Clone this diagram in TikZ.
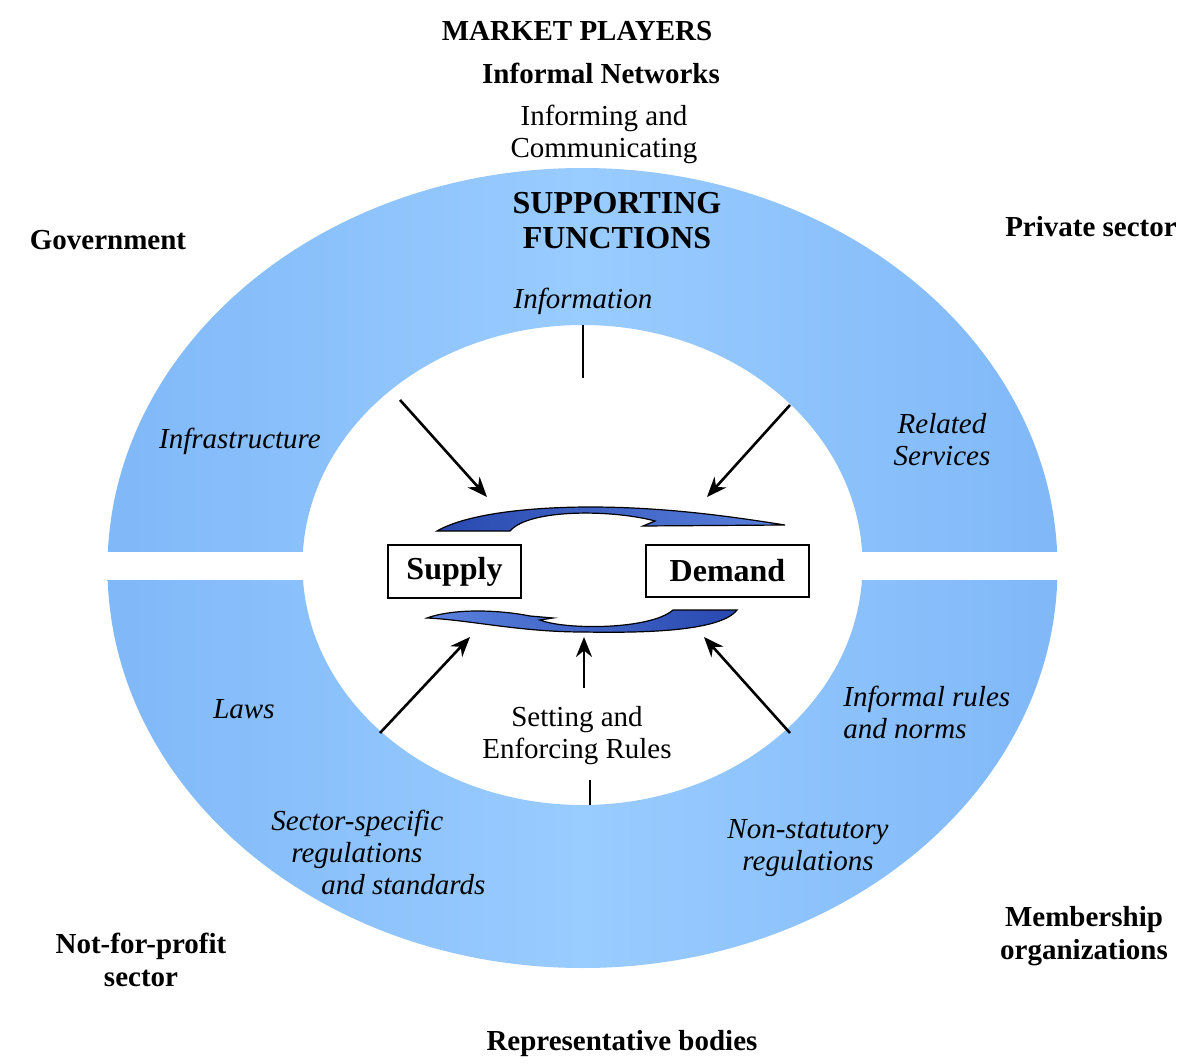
\documentclass[tikz,border=0pt]{standalone}
\usepackage{fontspec}
\setmainfont{Liberation Serif}
\usetikzlibrary{arrows.meta}
\definecolor{ringmid}{RGB}{153,204,255}
\definecolor{ringside}{RGB}{128,184,248}
\definecolor{loopdark}{RGB}{40,72,175}
\definecolor{looplight}{RGB}{90,130,222}
\begin{document}
\begin{tikzpicture}[x=0.5pt, y=-0.5pt,
    boldtxt/.style={font=\bfseries\fontsize{14.5}{16.5}\selectfont, align=center, inner sep=0},
    plaintxt/.style={font=\fontsize{14.5}{16}\selectfont, align=center, inner sep=0},
    italtxt/.style={font=\itshape\fontsize{14.5}{16}\selectfont, align=center, inner sep=0},
    boxnode/.style={draw, line width=1.2pt, fill=white, font=\bfseries\fontsize{16}{18}\selectfont, inner sep=0},
    pointer/.style={-{Stealth[length=10pt, width=8pt]}, line width=1.3pt},
    loopshape/.style={draw=black, line width=0.6pt}]
  \useasboundingbox (0,0) rectangle (1200,1064);
  % Ring of supporting functions and rules:
  \path[even odd rule, left color=ringside, right color=ringside, middle color=ringmid]
    (582.5,568) ellipse [x radius=237.5pt, y radius=200pt]
    (582.5,565) ellipse [x radius=140pt, y radius=120pt];
  \fill[white] (90,552) rectangle (1080,580);
  % Players round the ring:
  \node[boldtxt] (players) at (577,31) {MARKET PLAYERS};
  \node[boldtxt] (networks) at (601,73) {Informal Networks};
  \node[plaintxt] (informing) at (604,134) {Informing and\\Communicating};
  \node[boldtxt, font=\bfseries\fontsize{16}{17.5}\selectfont] (supporting) at (617,221) {SUPPORTING\\FUNCTIONS};
  \node[boldtxt] (government) at (108,240) {Government};
  \node[boldtxt] (private) at (1091,227) {Private sector};
  \node[boldtxt] (notprofit) at (141,960) {Not-for-profit\\sector};
  \node[boldtxt] (membership) at (1084,936) {Membership\\organizations};
  \node[boldtxt] (representative) at (622,1044) {Representative bodies};
  % Functions in the ring:
  \node[italtxt] (information) at (583,301) {Information};
  \node[italtxt] (infrastructure) at (240,441) {Infrastructure};
  \node[italtxt] (related) at (942,440) {Related\\Services};
  \node[italtxt] (laws) at (244,709) {Laws};
  \node[italtxt, anchor=west, align=left] (informalrules) at (843,712) {Informal rules\\and norms};
  \node[italtxt, anchor=west, align=left] (sectorspecific) at (271,852) {Sector-specific\\\hspace*{10pt}regulations\\\hspace*{25pt}and standards};
  \node[italtxt] (nonstatutory) at (808,848) {Non-statutory\\regulations};
  \node[plaintxt] (setting) at (577,736) {Setting and\\Enforcing Rules};
  % Core market:
  \node[boxnode, minimum width=66.5pt, minimum height=26.5pt] (supply) at (454.5,571.5) {Supply};
  \node[boxnode, minimum width=81.5pt, minimum height=26pt] (demand) at (727.5,571) {Demand};
  \draw[loopshape, left color=loopdark, right color=looplight]
    (437,531) .. controls (470,512) and (540,507) .. (590,507)
    .. controls (670,507) and (740,518) .. (785,525) -- (643,526) -- (655,521)
    .. controls (615,510) and (530,508) .. (510,531) -- cycle;
  \draw[loopshape, left color=looplight, right color=loopdark]
    (427,618) .. controls (455,608) and (500,610) .. (530,616) -- (553,618) -- (540,620)
    .. controls (565,630) and (650,630) .. (673,610) -- (737,610)
    .. controls (720,632) and (640,633) .. (583,632)
    .. controls (520,632) and (470,620) .. (427,618) -- cycle;
  % Wires:
  \coordinate (infotop) at (583,325);
  \coordinate (infobot) at (583,378);
  \coordinate (ruletop) at (590,780);
  \coordinate (rulebot) at (590,805);
  \coordinate (infraout) at (400,400);
  \coordinate (infrain) at (487,497);
  \coordinate (relout) at (790,405);
  \coordinate (relin) at (707,497);
  \coordinate (lawout) at (380,733);
  \coordinate (lawin) at (470,637);
  \coordinate (setout) at (584,688);
  \coordinate (setin) at (584,637);
  \coordinate (normout) at (790,733);
  \coordinate (normin) at (704,637);
  \draw[line width=0.8pt] (infotop) -- (infobot);
  \draw[line width=0.8pt] (ruletop) -- (rulebot);
  \draw[pointer] (infraout) -- (infrain);
  \draw[pointer] (relout) -- (relin);
  \draw[pointer] (lawout) -- (lawin);
  \draw[pointer] (setout) -- (setin);
  \draw[pointer] (normout) -- (normin);
\end{tikzpicture}
\end{document}
